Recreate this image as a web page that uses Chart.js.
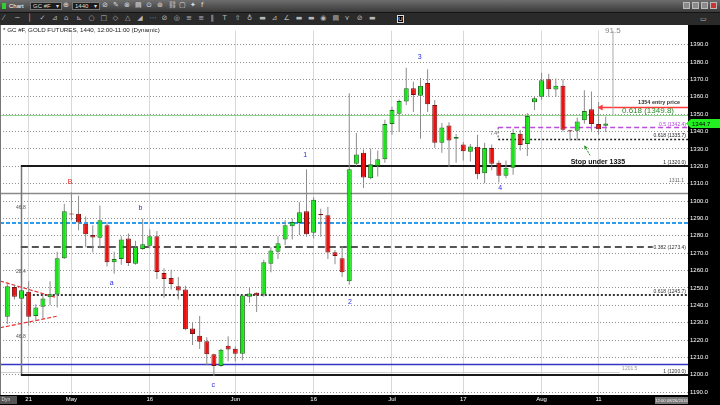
<!DOCTYPE html>
<html><head><meta charset="utf-8">
<script src="https://cdn.jsdelivr.net/npm/chart.js@4.4.0/dist/chart.umd.min.js"></script>
<style>
html,body{margin:0;padding:0;background:#fff;width:720px;height:405px;overflow:hidden;font-family:"Liberation Sans",Arial,sans-serif;}
#row1{position:absolute;left:0;top:0;width:720px;height:12px;background:linear-gradient(#6e6e6e,#3a3a3a);}
#row2{position:absolute;left:0;top:12px;width:720px;height:13px;background:#2a2a2a;border-top:1px solid #151515;box-sizing:border-box;}
.t{position:absolute;white-space:nowrap;line-height:1;}
.box{position:absolute;top:2px;height:8px;background:#1c1c1c;border:1px solid #777;box-sizing:border-box;color:#ddd;font-size:6px;line-height:6px;padding-left:2px;}
.ic{position:absolute;color:#b8b8b8;font-family:"DejaVu Sans",sans-serif;font-size:7px;line-height:1;}
.wb{position:absolute;top:2px;width:7px;height:7px;background:#8a8a8a;border:1px solid #bbb;box-sizing:border-box;}
#cv{position:absolute;left:0;top:25px;}
</style></head><body>
<div id="row1">
  <div class="t" style="left:2px;top:3px;width:4px;height:6px;background:#3c3;"></div>
  <div class="t" style="left:9px;top:3px;color:#fff;font-size:6px;">Chart</div>
  <div class="box" style="left:30px;width:32px;">GC #F<span style="position:absolute;right:2px;">▾</span></div>
  <div class="ic" style="left:63px;top:2px;color:#ddd;">⊕</div>
  <div class="box" style="left:72px;width:28px;">1440<span style="position:absolute;right:2px;">▾</span></div>
  <div class="ic" style="left:102px;top:2px;color:#ddd;">⊘</div>
  <div id="icons1"></div>
  <div class="wb" style="left:683px;"></div>
  <div class="wb" style="left:692px;"></div>
  <div class="wb" style="left:701px;"></div>
  <div class="wb" style="left:710px;background:#c33;"></div>
</div>
<div id="row2">
  <div id="icons2"></div>
  <div class="t" style="left:397px;top:2px;width:7px;height:8px;border:1px solid #ddd;box-sizing:border-box;color:#fff;font-size:6px;text-align:center;background:#000;">U</div>
  <div class="ic" style="left:700px;top:3px;">▭</div>
</div>
<canvas id="cv" width="720" height="380"></canvas>
<script>
// ---- data ----
const opens  = [1233.4,1250.6,1243.8,1247.8,1233.9,1239.2,1244.7,1246.2,1267.1,1292.9,1292.7,1287.0,1280.5,1278.9,1286.1,1264.8,1266.6,1278.5,1263.9,1272.4,1274.3,1279.8,1258.6,1255.7,1251.0,1249.1,1226.7,1222.5,1219.3,1211.8,1205.1,1216.8,1215.0,1212.1,1244.9,1247.2,1246.2,1263.9,1270.9,1277.9,1285.5,1287.4,1294.2,1281.7,1292.5,1291.8,1270.5,1267.1,1253.9,1321.5,1327.8,1313.2,1320.2,1324.0,1344.3,1350.2,1357.3,1364.9,1360.6,1368.0,1355.3,1333.5,1343.5,1335.9,1332.5,1328.4,1331.2,1316.0,1330.6,1322.0,1314.5,1319.2,1338.8,1332.9,1356.9,1360.1,1370.1,1364.2,1366.3,1340.7,1340.5,1346.5,1352.8,1344.3,1343.3];
const highs  = [1253.3,1251.9,1250.0,1253.9,1240.6,1245.7,1253.9,1270.9,1298.4,1305.1,1303.1,1291.1,1286.1,1297.4,1288.0,1270.9,1279.8,1281.3,1277.1,1289.9,1283.6,1282.8,1261.4,1260.5,1256.3,1251.2,1230.1,1233.9,1221.6,1212.1,1215.0,1222.2,1216.3,1246.2,1250.0,1247.6,1266.2,1273.4,1279.8,1288.9,1289.9,1299.3,1318.3,1302.2,1295.6,1296.8,1271.8,1274.1,1362.0,1339.2,1329.7,1330.3,1329.1,1346.8,1354.3,1358.5,1376.7,1368.7,1370.8,1375.8,1358.1,1344.9,1345.4,1338.6,1334.0,1332.9,1338.2,1333.5,1332.5,1323.4,1323.4,1341.6,1341.1,1350.6,1360.0,1373.9,1373.3,1370.5,1370.1,1341.0,1348.1,1363.8,1363.1,1357.0,1348.6];
const lows   = [1229.2,1243.4,1241.1,1228.3,1231.1,1232.6,1240.0,1238.7,1266.6,1288.9,1283.2,1273.4,1270.4,1272.8,1262.4,1258.2,1263.3,1262.7,1263.3,1272.0,1272.8,1255.2,1244.4,1249.1,1243.4,1225.6,1217.2,1214.9,1205.5,1199.4,1204.6,1207.8,1207.8,1208.4,1241.5,1236.2,1244.9,1259.0,1266.6,1274.7,1277.9,1280.4,1279.4,1278.5,1279.4,1266.6,1263.7,1256.3,1251.9,1320.2,1307.5,1312.6,1314.1,1322.1,1338.2,1339.8,1355.3,1351.3,1335.9,1351.3,1330.7,1327.8,1319.6,1322.1,1323.4,1322.7,1312.6,1310.2,1317.7,1310.7,1313.2,1315.1,1329.1,1325.9,1352.4,1358.3,1360.0,1360.0,1340.1,1334.8,1334.8,1344.5,1340.5,1338.2,1339.7];
const closes = [1251.0,1244.9,1248.7,1233.4,1238.7,1244.0,1246.4,1267.1,1294.2,1292.3,1287.6,1280.9,1279.1,1288.9,1264.8,1266.6,1277.9,1264.3,1273.4,1275.1,1279.8,1259.2,1255.2,1252.3,1248.5,1226.3,1223.5,1219.1,1211.9,1205.1,1214.4,1214.6,1212.1,1245.7,1246.8,1245.7,1264.8,1271.5,1275.7,1286.1,1288.0,1293.6,1280.9,1300.8,1291.9,1270.4,1268.4,1259.0,1318.3,1326.8,1313.6,1321.2,1324.0,1344.3,1352.4,1357.6,1364.9,1361.1,1366.3,1355.7,1333.5,1342.4,1334.8,1336.9,1328.7,1331.4,1315.5,1330.6,1321.5,1314.5,1319.2,1339.2,1332.2,1349.0,1359.2,1369.6,1364.4,1366.3,1341.1,1340.1,1345.8,1351.8,1344.3,1341.4,1344.7];
const tickIndex = [3, 9, 20, 32, 43, 54, 64, 75, 83];
const tickText  = ["21", "May", "16", "Jun", "16", "Jul", "17", "Aug", "11"];
const lastPrice = 1344.7;
// Fibonacci / trade levels
const fibPrices = [1320.0, 1273.4, 1245.7, 1200.0];
const fibText   = ["1 (1320.0)", "0.382 (1273.4)", "0.618 (1245.7)", "1 (1200.0)"];
const tradePrices = [1354.0, 1349.8, 1342.4, 1335.7];
const tradeText   = ["1354 entry price", "0.618 (1349.8)", "0.5 (1342.4)", "0.618 (1335.7)"];
const otherLevels = [1287.4, 1304.6, 1206.3, 1201.5];
// wave labels
const waveText  = ["B", "a", "b", "c", "1", "2", "3", "4"];
const waveIdx   = [8.8, 14.65, 18.7, 28.9, 41.8, 48.1, 57.9, 69.2];
const wavePrice = [1311.2, 1253.0, 1296.1, 1194.4, 1326.7, 1241.8, 1382.7, 1307.4];

// ---- build datasets ----
const idx = opens.map((_, i) => i);
const isUp = i => closes[i] - opens[i] >= 0.5;
const isDn = i => opens[i] - closes[i] >= 0.5;
const bodyFill = idx.map(i => isUp(i) ? '#17e617' : isDn(i) ? '#ec1010' : '#222');
const bodyLine = idx.map(i => isUp(i) ? '#1c6e1c' : isDn(i) ? '#7a1212' : '#111');

const overlay = {
  id: 'overlay',
  beforeDraw(c) {
    const {ctx, chartArea: a, width, height} = c;
    ctx.save();
    ctx.fillStyle = '#fff'; ctx.fillRect(0, 0, width, height);
    ctx.fillStyle = '#000';
    ctx.fillRect(a.right, 0, width - a.right, height);
    ctx.fillRect(0, a.bottom, width, height - a.bottom);
    ctx.restore();
  },
  beforeDatasetsDraw(c) {
    const {ctx, chartArea: a} = c;
    const X = v => c.scales.x.getPixelForValue(v), Y = v => c.scales.y.getPixelForValue(v);
    ctx.save();
    ctx.beginPath(); ctx.rect(a.left, a.top, a.right - a.left, a.bottom - a.top); ctx.clip();
    const seg = (x1, y1, x2, y2, col, w, dash) => {
      ctx.beginPath(); ctx.strokeStyle = col; ctx.lineWidth = w; ctx.setLineDash(dash || []);
      ctx.moveTo(x1, y1); ctx.lineTo(x2, y2); ctx.stroke();
    };
    const h = (p, x1, x2, col, w, dash) => { const y = Math.round(Y(p)) + (w % 2 ? 0.5 : 0); seg(x1, y, x2, y, col, w, dash); };
    const fx = X(1.9);
    // full-width levels
    h(otherLevels[0], a.left, a.right, '#2b9cf0', 2, [4, 2]);
    h(otherLevels[1], a.left, a.right, '#8a8a8a', 1.5);
    h(otherLevels[2], a.left, a.right, '#3535c8', 1.5);
    h(otherLevels[3], a.left, X(86), '#d0d0d0', 1);
    h(tradePrices[1], a.left, a.right, '#8fd18f', 1);
    // fib tool
    seg(Math.round(fx) + 0.5, Y(fibPrices[0]), Math.round(fx) + 0.5, Y(fibPrices[3]), '#777', 1.5);
    h(fibPrices[0], fx, a.right, '#1a1a1a', 2);
    h(fibPrices[1], fx, X(90.6), '#555', 2, [7, 4]);
    h(fibPrices[2], fx, a.right, '#333', 2, [2, 2]);
    h(fibPrices[3], fx, a.right, '#1a1a1a', 2);
    // trade levels
    const tx = X(68.9);
    seg(tx, Y(tradePrices[2]), tx, Y(tradePrices[3]), '#555', 1, [2, 2]);
    h(tradePrices[2], tx, a.right, '#c04ae0', 1.5, [5, 3]);
    h(tradePrices[3], tx, a.right, '#222', 1.5, [2, 2]);
    h(tradePrices[0], X(83.0), a.right, '#ff3b3b', 1.5);
    // vertical marker line
    seg(X(85.02), a.top, X(85.02), Y(tradePrices[1]), '#aaa', 1);
    // red channel lines
    seg(X(-1.02), Y(1254.0), X(6.7), Y(1244.7), '#ee3030', 1.2, [4, 2]);
    seg(X(-1.02), Y(1227.1), X(6.93), Y(1233.7), '#ee3030', 1.2, [4, 2]);
    ctx.restore();
  },
  afterDatasetsDraw(c) {
    const {ctx, chartArea: a, width} = c;
    const X = v => c.scales.x.getPixelForValue(v), Y = v => c.scales.y.getPixelForValue(v);
    const F = 'Liberation Sans, Arial, sans-serif';
    const txt = (s, x, y, font, col, align, base) => {
      ctx.font = font; ctx.fillStyle = col; ctx.textAlign = align || 'left'; ctx.textBaseline = base || 'middle';
      ctx.fillText(s, x, y);
    };
    ctx.save();
    // title
    txt('* GC #F, GOLD FUTURES, 1440, 12:00-11:00 (Dynamic)', 3, 5.5, '6.2px ' + F, '#222');
    txt('91.5', X(85.0), 5.7, '8px ' + F, '#888', 'center');
    // waves
    waveText.forEach((s, i) => txt(s, X(waveIdx[i]), Y(wavePrice[i]), '7px ' + F, s === 'B' ? '#e02020' : '#2a2ae8', 'center'));
    // fib labels
    const R = a.right - 2;
    txt(fibText[0], R, Y(fibPrices[0]) - 1, '5px ' + F, '#222', 'right', 'bottom');
    txt(fibText[1], R, Y(fibPrices[1]), '5px ' + F, '#333', 'right', 'middle');
    txt(fibText[2], R, Y(fibPrices[2]) - 1, '5px ' + F, '#333', 'right', 'bottom');
    txt(fibText[3], R, Y(fibPrices[3]) - 1, '5px ' + F, '#333', 'right', 'bottom');
    txt('1311.1', R - 2, Y(1310) - 1, '5px ' + F, '#666', 'right', 'bottom');
    txt('1201.5', X(86.3), Y(otherLevels[3]) - 1, '5px ' + F, '#999', 'left', 'bottom');
    ['46.8', '28.4', '46.8'].forEach((s, i) => txt(s, X(1.9), Y([1296, 1259.3, 1222][i]), '5px ' + F, '#555', 'center'));
    // trade labels
    txt(tradeText[0], R - 6, Y(tradePrices[0]) - 1.5, 'bold 5.5px ' + F, '#333', 'right', 'bottom');
    txt(tradeText[1], R - 12, Y(tradePrices[1]) + 0.5, '8px ' + F, '#2a8a2a', 'right', 'bottom');
    txt(tradeText[2], R, Y(tradePrices[2]) - 0.5, '5px ' + F, '#b040d8', 'right', 'bottom');
    txt(tradeText[3], R, Y(tradePrices[3]) - 0.5, '5px ' + F, '#222', 'right', 'bottom');
    txt('7.4', X(68.9) - 1, Y(1338.7), '5px ' + F, '#666', 'right');
    // entry arrow head
    const ex = X(83.0), ey = Math.round(Y(tradePrices[0])) + 0.5;
    ctx.fillStyle = '#ff3b3b'; ctx.beginPath(); ctx.moveTo(ex - 1, ey); ctx.lineTo(ex + 4, ey - 3); ctx.lineTo(ex + 4, ey + 3); ctx.closePath(); ctx.fill();
    // stop text + green arrow
    txt('Stop under 1335', X(82.9), Y(1322.7), 'bold 7px ' + F, '#111', 'center');
    const ax1 = X(81.8), ay1 = Y(1326.3), ax2 = X(81.0), ay2 = Y(1332.0);
    ctx.strokeStyle = '#2a9a2a'; ctx.lineWidth = 1; ctx.setLineDash([2, 1]);
    ctx.beginPath(); ctx.moveTo(ax1, ay1); ctx.lineTo(ax2, ay2); ctx.stroke(); ctx.setLineDash([]);
    const ang = Math.atan2(ay2 - ay1, ax2 - ax1);
    ctx.fillStyle = '#2a9a2a'; ctx.beginPath(); ctx.moveTo(ax2, ay2);
    ctx.lineTo(ax2 - 4 * Math.cos(ang - 0.5), ay2 - 4 * Math.sin(ang - 0.5));
    ctx.lineTo(ax2 - 4 * Math.cos(ang + 0.5), ay2 - 4 * Math.sin(ang + 0.5)); ctx.closePath(); ctx.fill();
    ctx.restore();
  },
  afterDraw(c) {
    const {ctx, chartArea: a, width, height} = c;
    const Y = v => c.scales.y.getPixelForValue(v);
    const F = 'Liberation Sans, Arial, sans-serif';
    ctx.save();
    // left border
    ctx.strokeStyle = '#777'; ctx.lineWidth = 1; ctx.beginPath(); ctx.moveTo(0.5, 0); ctx.lineTo(0.5, a.bottom); ctx.stroke();
    // current price box
    const py = Y(lastPrice);
    ctx.fillStyle = '#22ee22'; ctx.beginPath();
    ctx.moveTo(a.right - 2, py); ctx.lineTo(a.right + 3, py - 4.5); ctx.lineTo(width, py - 4.5); ctx.lineTo(width, py + 4.5); ctx.lineTo(a.right + 3, py + 4.5); ctx.closePath(); ctx.fill();
    ctx.font = '6px ' + F; ctx.fillStyle = '#000'; ctx.textAlign = 'left'; ctx.textBaseline = 'middle';
    ctx.fillText(lastPrice.toFixed(1), a.right + 4, py + 0.5);
    // bottom-left Dyn button
    ctx.fillStyle = '#555'; ctx.fillRect(0, a.bottom + 1, 17, 8);
    ctx.fillStyle = '#ddd'; ctx.font = '5px ' + F; ctx.fillText('Dyn', 1.5, a.bottom + 5);
    // bottom-right date box
    ctx.fillStyle = '#777'; ctx.fillRect(655, a.bottom + 2, 33, 7);
    ctx.fillStyle = '#eee'; ctx.font = '4.2px ' + F; ctx.textAlign = 'center'; ctx.fillText('12:00 08/26/2016', 671.5, a.bottom + 5.6);
    ctx.restore();
  }
};

new Chart(document.getElementById('cv'), {
  type: 'bar',
  data: {
    datasets: [
      { label: 'body', order: 0, grouped: false, barThickness: 5, borderWidth: 1, borderSkipped: false,
        backgroundColor: bodyFill, borderColor: bodyLine, inflateAmount: 0,
        data: idx.map(i => ({x: i, y: [opens[i], closes[i]]})) },
      { label: 'wick', order: 1, grouped: false, barThickness: 1, borderWidth: 0,
        backgroundColor: '#8c8c8c', inflateAmount: 0,
        data: idx.map(i => ({x: i, y: [lows[i], highs[i]]})) }
    ]
  },
  options: {
    responsive: false, animation: false, devicePixelRatio: 1,
    layout: { padding: 0 },
    plugins: { legend: { display: false }, tooltip: { enabled: false } },
    scales: {
      x: {
        type: 'linear', min: -1.025, max: 95.55, offset: false,
        grid: { offset: false, color: '#d8d8d8', lineWidth: 1, drawTicks: false },
        border: { display: false },
        afterBuildTicks: s => { s.ticks = tickIndex.map(v => ({ value: v })); },
        afterFit: s => { s.height = 10; },
        ticks: { autoSkip: false, maxRotation: 0, padding: 1, color: '#fff',
          font: { size: 6, family: 'Liberation Sans, Arial, sans-serif' },
          callback: v => tickText[tickIndex.indexOf(v)] }
      },
      y: {
        type: 'linear', position: 'right', min: 1188.4, max: 1398.1,
        grid: { color: '#8f8f8f', lineWidth: 1, drawTicks: false },
        border: { display: false, dash: [1, 2] },
        afterFit: s => { s.width = 32; },
        ticks: { stepSize: 10, includeBounds: false, padding: 2, color: '#fff',
          font: { size: 6, family: 'Liberation Sans, Arial, sans-serif' },
          callback: v => v.toFixed(1) }
      }
    }
  },
  plugins: [overlay]
});

// toolbar decoration icons
const g1 = ['✎','⊗','▤','⊙','⊛','⛓','▢','✦','f'];
const g1x = [113,124,135,146,157,168,179,190,201];
document.getElementById('icons1').innerHTML = g1.map((g, i) => `<div class="ic" style="left:${g1x[i]}px;top:2px;color:#ddd;">${g}</div>`).join('');
const g2 = '⁄─│✓⊿⌂⊾○□◇△◢⋯⊘◎≡≡‖T⇧♁▬⊿∠▬▬◉▤⋎⊘▬';
document.getElementById('icons2').innerHTML = Array.from(g2).map((g, i) => `<div class="ic" style="left:${3 + i * 12.2}px;top:2px;">${g}</div>`).join('');
</script>
</body></html>
